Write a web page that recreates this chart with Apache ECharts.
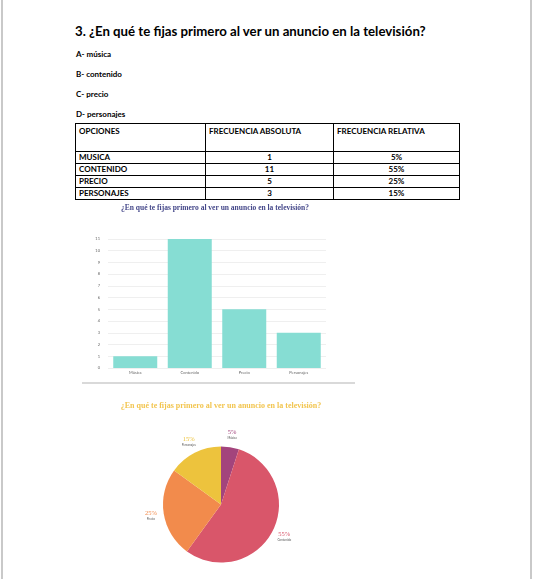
<!DOCTYPE html>
<html>
<head>
<meta charset="utf-8">
<script src="https://cdn.jsdelivr.net/npm/echarts@6/dist/echarts.min.js"></script>
<style>
  html, body { margin: 0; padding: 0; background: #fff; }
  #page { position: relative; width: 534px; height: 579px; overflow: hidden; background: #fff; font-family: Lato, "Open Sans", sans-serif; color: #000; }
  .edge { position: absolute; top: 0; width: 2px; height: 579px; background: #c9c9c9; }
  #heading { position: absolute; left: 75px; top: 22px; font-weight: bold; white-space: nowrap; font-size: 15px; line-height: 18px; }
  .item { position: absolute; left: 76px; font-weight: bold; font-size: 8px; line-height: 10px; white-space: nowrap; }
  #tbl { position: absolute; left: 75px; top: 123px; border-collapse: collapse; font-weight: bold; font-size: 8px; }
  #tbl td { border: 1px solid #000; padding: 0 3px; height: 11px; line-height: 11px; white-space: nowrap; }
  #tbl tr.head td { height: 25px; vertical-align: top; padding-top: 2px; }
  #tbl td.c { text-align: center; }
  #sep { position: absolute; left: 82px; top: 382px; width: 273px; height: 2px; background: #d9d9d9; }
  #chart { position: absolute; left: 0; top: 0; width: 534px; height: 579px; }
</style>
</head>
<body>
<div id="page">
  <div class="edge" style="left:1px"></div>
  <div class="edge" style="left:530px"></div>
  <div id="heading"></div>
  <div id="items"></div>
  <table id="tbl"></table>
  <div id="sep"></div>
  <div id="chart"></div>
</div>
<script>
// ---- data ----
var headingText = '3. ¿En qué te fijas primero al ver un anuncio en la televisión?';
var optionLetters = ['A- música', 'B- contenido', 'C- precio', 'D- personajes'];
var tableHeader = ['OPCIONES', 'FRECUENCIA ABSOLUTA', 'FRECUENCIA RELATIVA'];
var tableOptions = ['MUSICA', 'CONTENIDO', 'PRECIO', 'PERSONAJES'];
var absFreq = [1, 11, 5, 3];
var relFreq = ['5%', '55%', '25%', '15%'];
var chartTitle = '¿En qué te fijas primero al ver un anuncio en la televisión?';
var categories = ['Música', 'Contenido', 'Precio', 'Personajes'];
var barValues = [1, 11, 5, 3];
var pieValues = [5, 55, 25, 15];
var pieLabels = ['5%', '55%', '25%', '15%'];
var pieColors = ['#a3447c', '#d9566a', '#f28b4c', '#edc33d'];

// ---- document text ----
var h = document.getElementById('heading');
h.textContent = headingText;
// fit heading width to ~351px
var w = h.getBoundingClientRect().width;
h.style.fontSize = (15 * 351 / w).toFixed(2) + 'px';

var itemsDiv = document.getElementById('items');
var itemTops = [49, 69, 89, 109];
optionLetters.forEach(function (t, i) {
  var d = document.createElement('div');
  d.className = 'item';
  d.style.top = itemTops[i] + 'px';
  d.textContent = t;
  itemsDiv.appendChild(d);
});

var tbl = document.getElementById('tbl');
var colW = [130, 128, 126];
var tr = document.createElement('tr');
tr.className = 'head';
tableHeader.forEach(function (t, i) {
  var td = document.createElement('td');
  td.textContent = t;
  td.style.width = (colW[i] - 7) + 'px';
  tr.appendChild(td);
});
tbl.appendChild(tr);
tableOptions.forEach(function (t, i) {
  var r = document.createElement('tr');
  var a = document.createElement('td'); a.textContent = t;
  var b = document.createElement('td'); b.textContent = absFreq[i]; b.className = 'c';
  var c = document.createElement('td'); c.textContent = relFreq[i]; c.className = 'c';
  r.appendChild(a); r.appendChild(b); r.appendChild(c);
  tbl.appendChild(r);
});

// ---- charts ----
var chart = echarts.init(document.getElementById('chart'), null, { renderer: 'canvas' });
var pieCenter = [221, 504.5];
chart.setOption({
  backgroundColor: 'transparent',
  animation: false,
  graphic: [
    { type: 'text', x: 215, y: 208, style: { text: chartTitle, align: 'center', verticalAlign: 'middle', font: 'bold 7.5px "Liberation Serif", serif', fill: '#45488a' } },
    { type: 'text', x: 221, y: 406, style: { text: chartTitle, align: 'center', verticalAlign: 'middle', font: 'bold 8px "Liberation Serif", serif', fill: '#f2c54f' } }
  ],
  grid: { left: 108, width: 218, top: 239, height: 129, containLabel: false },
  xAxis: {
    type: 'category',
    data: categories,
    axisLine: { show: false },
    axisTick: { show: false },
    axisLabel: { fontSize: 4, color: '#666', margin: 3, fontFamily: 'Lato, sans-serif' }
  },
  yAxis: {
    type: 'value',
    min: 0, max: 11, interval: 1,
    axisLine: { show: false },
    axisTick: { show: false },
    axisLabel: { fontSize: 4, color: '#666', margin: 8, fontFamily: 'Lato, sans-serif' },
    splitLine: { lineStyle: { color: '#efefef', width: 1 } }
  },
  series: [
    {
      type: 'bar',
      data: barValues,
      barWidth: 44,
      itemStyle: { color: '#86ddd3' },
      silent: true
    },
    {
      type: 'pie',
      center: pieCenter,
      radius: 58,
      startAngle: 90,
      clockwise: true,
      silent: true,
      label: { show: false },
      labelLine: { show: false },
      data: categories.map(function (c, i) { return { name: c, value: pieValues[i], itemStyle: { color: pieColors[i] } }; })
    },
    {
      type: 'pie',
      center: pieCenter,
      radius: [61, 75],
      startAngle: 90,
      clockwise: true,
      silent: true,
      itemStyle: { color: 'rgba(0,0,0,0)' },
      labelLine: { show: false },
      label: {
        show: true,
        position: 'inside',
        rotate: 0,
        formatter: function (p) { return '{p|' + pieLabels[p.dataIndex] + '}\n{n|' + p.name + '}'; },
        rich: {
          p: { fontSize: 6.5, fontFamily: '"Liberation Serif", serif', lineHeight: 7 },
          n: { fontSize: 3, color: '#555', fontFamily: 'Lato, sans-serif', lineHeight: 4 }
        }
      },
      data: categories.map(function (c, i) {
        return { name: c, value: pieValues[i], label: { rich: { p: { color: pieColors[i] } } } };
      })
    }
  ]
});
</script>
</body>
</html>
